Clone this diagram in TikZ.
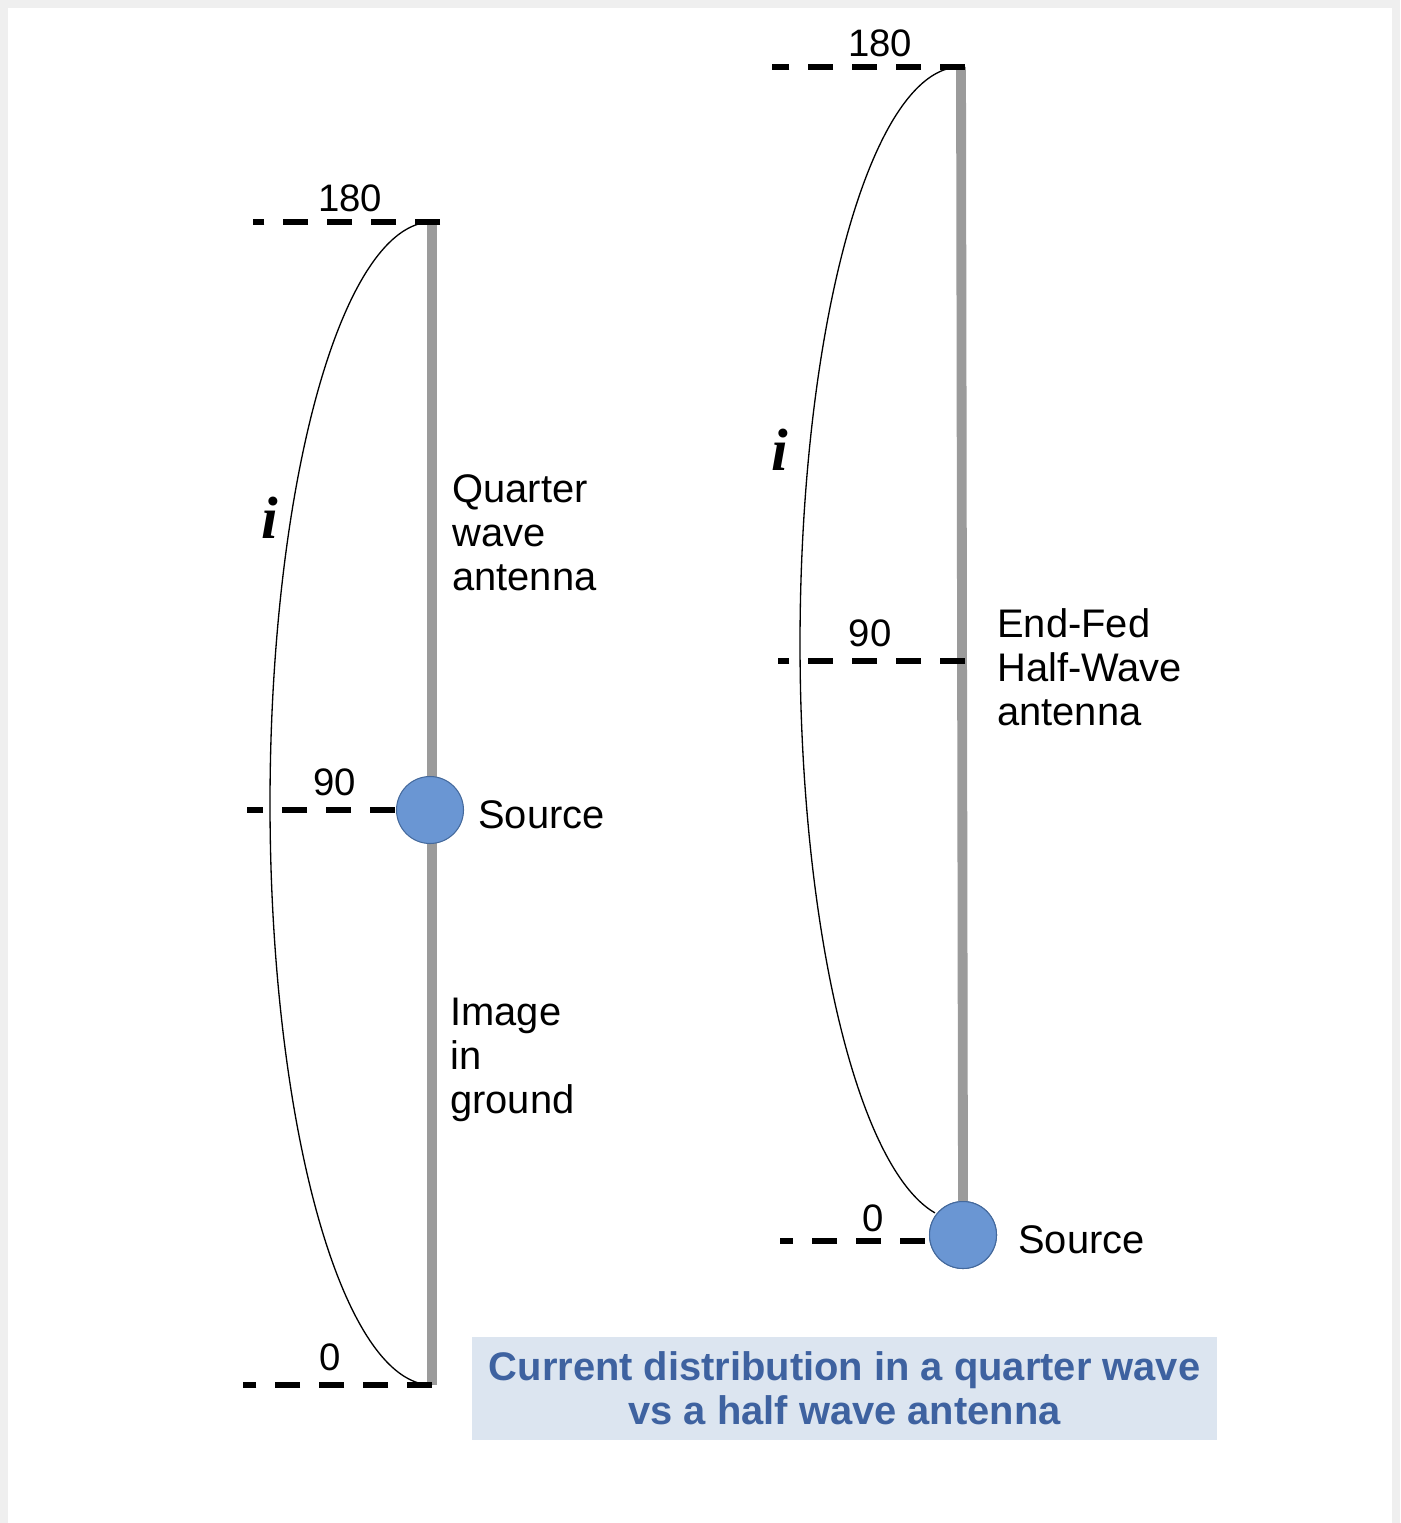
\documentclass[tikz,border=0pt]{standalone}
\usepackage{fontspec}
\setmainfont{Liberation Sans}
\newfontfamily\serifi{Liberation Serif}
\definecolor{antgray}{HTML}{9B9B9B}
\definecolor{srcblue}{HTML}{6A96D3}
\definecolor{srcedge}{HTML}{44699C}
\definecolor{titlefill}{HTML}{DCE5F0}
\definecolor{titletext}{HTML}{3E62A0}
\definecolor{framegray}{HTML}{EFEFEF}
\begin{document}
\begin{tikzpicture}[x=0.02cm,y=-0.02cm,
  antenna/.style={line width=5.6pt, draw=antgray},
  level/.style={line width=3.4pt, dash pattern=on 14.2pt off 10.8pt},
  current/.style={line width=0.75pt},
  lbl/.style={font=\fontsize{22.7}{25}\selectfont, inner sep=0, align=left, anchor=west},
  num/.style={font=\fontsize{21.8}{25}\selectfont, inner sep=0},
  src/.style={circle, fill=srcblue, draw=srcedge, line width=0.6pt, minimum size=1.34cm, inner sep=0},
  ilbl/.style={font=\fontsize{34}{38}\serifi\bfseries\itshape, inner sep=0},
  titlebox/.style={fill=titlefill, text=titletext, align=center, inner sep=0,
    minimum width=14.9cm, minimum height=2.06cm,
    font=\fontsize{22.7}{25}\selectfont\bfseries}]
\useasboundingbox (0,0) rectangle (1400,1523);
\fill[framegray] (0,0) rectangle (1400,1523);
\fill[white] (8,8) rectangle (1392,1523);

% ---------- left: quarter wave ----------
\coordinate (topL) at (432,222);
\coordinate (botL) at (432,1385);
\coordinate (l180) at (253,222);
\coordinate (m90R) at (395,810);
\coordinate (l90) at (247,810);
\coordinate (l0) at (243,1385);
\draw[antenna] (topL) -- (botL);
\draw[current] plot[domain=0:180, samples=90, smooth]
  ({432-162*sin(\x)}, {803.5-581.5*cos(\x)});
\draw[level] (topL) ++(8,0) -- (l180);
\draw[level] (m90R) -- (l90);
\draw[level] (botL) -- (l0);
\node[src] (srcL) at (430,810) {};
\node[num] (n180L) at (350,198) {180};
\node[num] (n90L) at (335,782) {90};
\node[num] (n0L) at (330,1357) {0};
\node[ilbl] (iL) at (270,518) {i};
\node[lbl] (qw) at (452,533) {Quarter\\wave\\antenna};
\node[lbl] (sL) at (478,815) {Source};
\node[lbl] (img) at (450,1060) {Image\\in\\ground};

% ---------- right: end-fed half wave ----------
\coordinate (topR) at (961,67);
\coordinate (r180) at (772,67);
\coordinate (m90RR) at (965,661);
\coordinate (r90) at (778,661);
\coordinate (b0R) at (925,1241);
\coordinate (r0) at (780,1241);
\node[src] (srcR) at (963,1235) {};
\draw[antenna] (topR) -- (srcR.north);
\draw[current] plot[domain=0:171, samples=90, smooth]
  ({960-160*sin(\x)}, {643.5-576.5*cos(\x)});
\draw[level] (topR) ++(4,0) -- (r180);
\draw[level] (m90RR) -- (r90);
\draw[level] (b0R) -- (r0);
\node[src] at (srcR) {};
\node[num] (n180R) at (880,43) {180};
\node[num] (n90R) at (870,633) {90};
\node[num] (n0R) at (873,1218) {0};
\node[ilbl] (iR) at (780,450) {i};
\node[lbl] (ehw) at (997,667) {End-Fed\\Half-Wave\\antenna};
\node[lbl] (sR) at (1018,1240) {Source};

% ---------- title ----------
\node[titlebox] (title) at (844.5,1388.5) {Current distribution in a quarter wave\\vs a half wave antenna};
\end{tikzpicture}
\end{document}
